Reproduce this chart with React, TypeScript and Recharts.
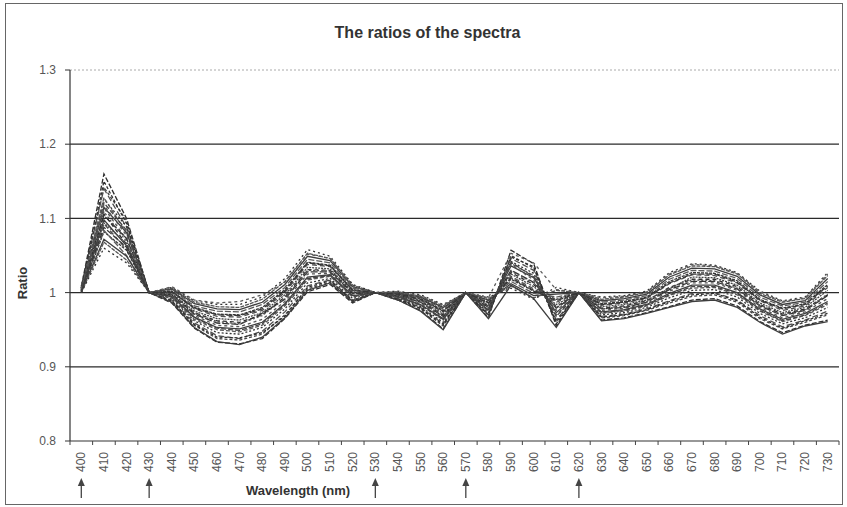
import { LineChart, Line, XAxis, YAxis, CartesianGrid, ReferenceLine } from "recharts";

// wavelength categories (nm)
const wavelengths = [
  400, 410, 420, 430, 440, 450, 460, 470, 480, 490, 500, 510, 520, 530, 540, 550, 560,
  570, 580, 590, 600, 610, 620, 630, 640, 650, 660, 670, 680, 690, 700, 710, 720, 730,
];

// one ratio curve per sample
const spectrumA = [1.008, 1.160, 1.100, 1.000, 0.986, 0.952, 0.933, 0.931, 0.938, 0.965, 1.001, 1.011, 0.986, 1.000, 0.990, 0.976, 0.951, 1.000, 0.966, 1.057, 1.039, 0.955, 1.000, 0.963, 0.966, 0.973, 0.981, 0.990, 0.992, 0.982, 0.961, 0.946, 0.956, 0.963];
const spectrumB = [1.006, 1.142, 1.097, 1.000, 0.988, 0.956, 0.938, 0.936, 0.944, 0.970, 1.005, 1.014, 0.988, 1.000, 0.991, 0.978, 0.955, 1.000, 0.969, 1.050, 1.033, 0.960, 1.000, 0.966, 0.969, 0.976, 0.986, 0.995, 0.997, 0.987, 0.965, 0.951, 0.960, 0.970];
const spectrumC = [1.009, 1.140, 1.088, 1.000, 0.990, 0.959, 0.942, 0.938, 0.948, 0.974, 1.009, 1.017, 0.990, 1.000, 0.992, 0.980, 0.958, 1.000, 0.971, 1.046, 1.030, 0.963, 1.000, 0.968, 0.971, 0.978, 0.989, 0.999, 1.000, 0.990, 0.969, 0.954, 0.963, 0.975];
const spectrumD = [1.004, 1.126, 1.089, 1.000, 0.992, 0.962, 0.946, 0.944, 0.953, 0.978, 1.013, 1.019, 0.992, 1.000, 0.993, 0.981, 0.960, 1.000, 0.973, 1.042, 1.026, 0.962, 1.000, 0.970, 0.973, 0.980, 0.993, 1.003, 1.004, 0.994, 0.972, 0.958, 0.966, 0.980];
const spectrumE = [1.005, 1.128, 1.080, 1.000, 0.993, 0.964, 0.950, 0.947, 0.956, 0.982, 1.017, 1.022, 0.994, 1.000, 0.994, 0.983, 0.963, 1.000, 0.975, 1.039, 1.023, 0.970, 1.000, 0.972, 0.975, 0.982, 0.996, 1.006, 1.007, 0.997, 0.975, 0.961, 0.969, 0.984];
const spectrumF = [1.003, 1.115, 1.081, 1.000, 0.995, 0.967, 0.953, 0.951, 0.960, 0.985, 1.021, 1.024, 0.996, 1.000, 0.995, 0.984, 0.965, 1.000, 0.977, 1.036, 1.020, 0.973, 1.000, 0.974, 0.977, 0.984, 0.999, 1.010, 1.010, 1.000, 0.978, 0.964, 0.972, 0.988];
const spectrumG = [1.007, 1.114, 1.072, 1.000, 0.996, 0.969, 0.956, 0.954, 0.964, 0.988, 1.025, 1.026, 0.998, 1.000, 0.995, 0.985, 0.967, 1.000, 0.979, 1.038, 1.017, 0.976, 1.000, 0.976, 0.979, 0.985, 1.002, 1.013, 1.013, 1.003, 0.980, 0.966, 0.974, 0.992];
const spectrumH = [1.002, 1.104, 1.073, 1.000, 0.997, 0.971, 0.959, 0.957, 0.972, 0.991, 1.028, 1.028, 0.999, 1.000, 0.996, 0.987, 0.968, 1.000, 0.980, 1.030, 1.014, 0.979, 1.000, 0.978, 0.980, 0.987, 1.004, 1.015, 1.015, 1.005, 0.982, 0.969, 0.976, 0.996];
const spectrumI = [1.004, 1.106, 1.065, 1.000, 0.998, 0.973, 0.962, 0.960, 0.970, 0.994, 1.031, 1.030, 1.000, 1.000, 0.997, 0.988, 0.970, 1.000, 0.982, 1.027, 1.011, 0.981, 1.000, 0.979, 0.982, 0.989, 1.007, 1.018, 1.018, 1.008, 0.984, 0.971, 0.978, 0.997];
const spectrumJ = [1.001, 1.094, 1.066, 1.000, 0.999, 0.975, 0.965, 0.963, 0.973, 0.997, 1.034, 1.032, 1.001, 1.000, 0.997, 0.989, 0.972, 1.000, 0.983, 1.025, 1.008, 0.984, 1.000, 0.981, 0.984, 0.990, 1.005, 1.021, 1.020, 1.010, 0.986, 0.973, 0.980, 1.003];
const spectrumK = [1.003, 1.093, 1.058, 1.000, 1.001, 0.978, 0.968, 0.967, 0.976, 1.000, 1.038, 1.035, 1.003, 1.000, 0.998, 0.990, 0.974, 1.000, 0.985, 1.022, 1.005, 0.987, 1.000, 0.983, 0.986, 0.992, 1.012, 1.024, 1.023, 1.013, 0.989, 0.976, 0.982, 1.007];
const spectrumL = [1.000, 1.082, 1.057, 1.000, 1.002, 0.980, 0.971, 0.970, 0.980, 1.004, 1.041, 1.037, 1.004, 1.000, 0.999, 0.992, 0.976, 1.000, 0.987, 1.018, 1.002, 0.991, 1.000, 0.985, 0.988, 0.994, 1.015, 1.027, 1.026, 1.016, 0.991, 0.979, 0.985, 1.011];
const spectrumM = [1.002, 1.084, 1.050, 1.000, 1.004, 0.982, 0.975, 0.974, 0.984, 1.007, 1.045, 1.040, 1.006, 1.000, 0.999, 0.993, 0.978, 1.000, 0.989, 1.015, 0.999, 0.994, 1.000, 0.987, 0.990, 0.996, 1.018, 1.030, 1.029, 1.019, 0.994, 0.982, 0.987, 1.015];
const spectrumN = [1.001, 1.072, 1.049, 1.000, 1.005, 0.985, 0.978, 0.977, 0.987, 1.011, 1.049, 1.043, 1.008, 1.000, 1.000, 0.994, 0.980, 1.000, 0.990, 1.012, 0.996, 0.998, 1.000, 0.989, 0.992, 0.998, 1.021, 1.033, 1.032, 1.022, 0.997, 0.984, 0.989, 1.019];
const spectrumO = [1.000, 1.068, 1.044, 1.000, 1.006, 0.987, 0.981, 0.980, 0.991, 1.015, 1.053, 1.046, 1.010, 1.000, 1.001, 0.995, 0.982, 1.000, 0.992, 1.009, 0.993, 1.003, 1.000, 0.991, 0.994, 1.000, 1.024, 1.036, 1.035, 1.025, 0.999, 0.987, 0.992, 1.023];
const spectrumP = [1.000, 1.060, 1.040, 1.000, 1.007, 0.989, 0.984, 0.984, 0.994, 1.019, 1.058, 1.049, 1.011, 1.000, 1.002, 0.997, 0.984, 1.000, 0.994, 1.006, 0.991, 1.007, 1.000, 0.994, 0.996, 1.002, 1.027, 1.039, 1.037, 1.027, 1.002, 0.989, 0.994, 1.027];
const spectrumQ = [1.006, 1.150, 1.093, 1.000, 0.989, 0.957, 0.940, 0.939, 0.946, 0.968, 1.007, 1.016, 0.989, 1.000, 0.991, 0.979, 0.957, 1.000, 0.970, 1.048, 1.035, 0.958, 1.000, 0.967, 0.970, 0.977, 0.988, 0.997, 0.999, 0.989, 0.967, 0.952, 0.962, 0.972];
const spectrumR = [1.006, 1.121, 1.084, 1.000, 0.994, 0.966, 0.952, 0.949, 0.958, 0.984, 1.019, 1.023, 0.995, 1.000, 0.994, 0.983, 0.964, 1.000, 0.976, 1.041, 1.021, 0.968, 1.000, 0.973, 0.976, 0.983, 0.997, 1.008, 1.008, 0.999, 0.976, 0.962, 0.970, 0.986];
const spectrumS = [1.003, 1.109, 1.069, 1.000, 0.997, 0.972, 0.961, 0.958, 0.969, 0.992, 1.030, 1.029, 1.000, 1.000, 0.996, 0.987, 0.969, 1.000, 0.981, 1.029, 1.013, 0.980, 1.000, 0.978, 0.981, 0.988, 1.006, 1.017, 1.016, 1.006, 0.983, 0.970, 0.977, 0.998];
const spectrumT = [1.002, 1.088, 1.061, 1.000, 1.001, 0.979, 0.970, 0.969, 0.978, 1.002, 1.040, 1.036, 1.003, 1.000, 0.998, 0.991, 0.975, 1.000, 0.986, 1.020, 1.003, 0.989, 1.000, 0.984, 0.987, 0.993, 1.013, 1.025, 1.025, 1.014, 0.990, 0.978, 0.984, 1.009];
const spectrumU = [1.005, 1.118, 1.077, 1.000, 1.008, 0.990, 0.986, 0.988, 0.997, 1.014, 1.052, 1.046, 1.008, 1.000, 1.001, 0.996, 0.983, 1.000, 0.993, 1.053, 1.040, 1.004, 1.000, 0.993, 0.995, 1.001, 1.025, 1.038, 1.036, 1.026, 1.001, 0.988, 0.993, 1.025];
const spectrumV = [1.001, 1.098, 1.063, 1.000, 0.987, 0.953, 0.934, 0.930, 0.940, 0.966, 1.003, 1.013, 0.988, 1.000, 0.990, 0.975, 0.950, 1.000, 0.965, 1.010, 0.992, 0.953, 1.000, 0.962, 0.965, 0.972, 0.980, 0.988, 0.990, 0.980, 0.960, 0.944, 0.955, 0.961];

const yTicks = [0.8, 0.9, 1, 1.1, 1.2, 1.3];
const gridValues = [0.9, 1, 1.1, 1.2];
// reference wavelengths marked with arrows under the axis
const markedWavelengths = [400, 430, 530, 570, 620];

const spectra = [
  spectrumA, spectrumB, spectrumC, spectrumD, spectrumE, spectrumF, spectrumG, spectrumH,
  spectrumI, spectrumJ, spectrumK, spectrumL, spectrumM, spectrumN, spectrumO, spectrumP,
  spectrumQ, spectrumR, spectrumS, spectrumT, spectrumU, spectrumV,
];
const dashes = ["5 2", "3 2", "6 3", "2 2", "4 2", "", "3 3", "7 2", "4 3", "2 1", "5 3", "3 1", "6 2", "", "4 1", "2 3", "3 2", "5 2", "2 2", "6 2", "3 3", ""];
const inks = ["#2e2e2e", "#444", "#505050", "#363636", "#5a5a5a", "#3e3e3e", "#555", "#333"];

const data = wavelengths.map((wl, i) => {
  const row: Record<string, number> = { wl };
  spectra.forEach((s, k) => {
    row[`s${k}`] = s[i];
  });
  return row;
});

const FONT = "'Liberation Sans', Arial, sans-serif";
const HALF_BAND = 11.3;

function WavelengthTick(props: any) {
  const { x, y, payload, index } = props;
  const last = index === wavelengths.length - 1;
  const marked = markedWavelengths.includes(payload.value);
  return (
    <g>
      <line x1={x - HALF_BAND} x2={x - HALF_BAND} y1={y} y2={y + 4} stroke="#444" />
      {last && <line x1={x + HALF_BAND} x2={x + HALF_BAND} y1={y} y2={y + 4} stroke="#444" />}
      <text
        x={x}
        y={y + 11}
        transform={`rotate(-90 ${x} ${y + 11})`}
        textAnchor="end"
        dominantBaseline="central"
        fontSize={12}
        fontFamily={FONT}
        fill="#555"
      >
        {payload.value}
      </text>
      {marked && (
        <g>
          <line x1={x} x2={x} y1={y + 42} y2={y + 57} stroke="#444" strokeWidth={1.3} />
          <path d={`M${x - 3.5},${y + 45} L${x},${y + 37} L${x + 3.5},${y + 45} Z`} fill="#444" />
        </g>
      )}
    </g>
  );
}

export default function App() {
  return (
    <div style={{ position: "absolute", left: 0, top: 0, width: 847, height: 507, background: "#fff", fontFamily: FONT }}>
      <div style={{ position: "absolute", left: 5, top: 3, width: 836, height: 500, border: "1.5px solid #666" }} />
      <div style={{ position: "absolute", left: 0, width: 847, top: 24, textAlign: "center", fontSize: 16, fontWeight: 700, color: "#333", paddingLeft: 8, boxSizing: "border-box" }}>
        The ratios of the spectra
      </div>
      <div style={{ position: "absolute", left: 22, top: 283, transform: "translate(-50%, -50%) rotate(-90deg)", fontSize: 13, fontWeight: 700, color: "#333" }}>
        Ratio
      </div>
      <div style={{ position: "absolute", left: 298, top: 490, transform: "translate(-50%, -50%)", fontSize: 13, fontWeight: 700, color: "#333", whiteSpace: "nowrap" }}>
        Wavelength (nm)
      </div>
      <div style={{ position: "absolute", left: 0, top: 0 }}>
        <LineChart width={847} height={507} data={data} margin={{ top: 70, right: 8, bottom: 0, left: 38 }}>
          <CartesianGrid vertical={false} horizontalValues={gridValues} stroke="#2a2a2a" strokeWidth={1.2} />
          <ReferenceLine y={1.3} stroke="#aaa" strokeDasharray="2 2" />
          <XAxis
            dataKey="wl"
            interval={0}
            padding={{ left: HALF_BAND, right: HALF_BAND }}
            tickSize={0}
            tickMargin={0}
            height={66}
            axisLine={{ stroke: "#333", strokeWidth: 1.2 }}
            tick={<WavelengthTick />}
          />
          <YAxis
            type="number"
            domain={[0.8, 1.3]}
            ticks={yTicks}
            width={32}
            tickSize={5}
            tickMargin={9}
            tickFormatter={(v: number) => (v === 1 ? "1" : v.toFixed(1))}
            tick={{ fontSize: 12, fill: "#555", fontFamily: FONT }}
            axisLine={{ stroke: "#333", strokeWidth: 1.2 }}
            tickLine={{ stroke: "#333" }}
          />
          {spectra.map((_, k) => (
            <Line
              key={k}
              type="linear"
              dataKey={`s${k}`}
              stroke={inks[k % inks.length]}
              strokeWidth={1.3}
              strokeDasharray={dashes[k] || undefined}
              dot={false}
              activeDot={false}
              isAnimationActive={false}
            />
          ))}
        </LineChart>
      </div>
    </div>
  );
}
